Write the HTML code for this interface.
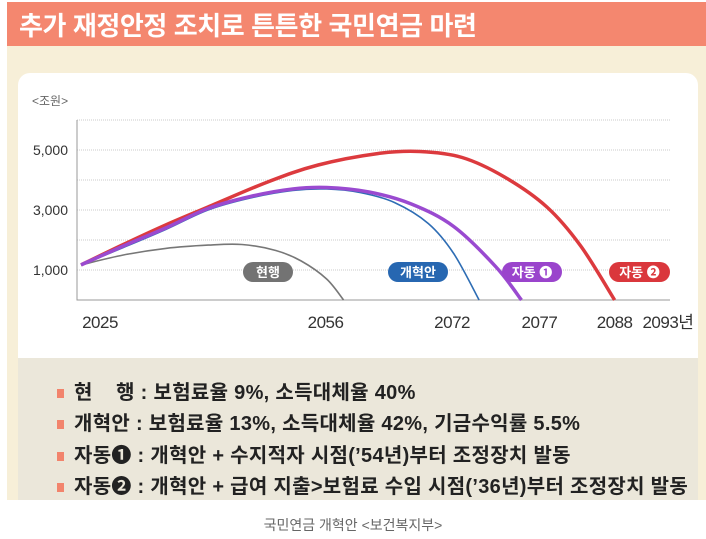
<!DOCTYPE html>
<html><head><meta charset="utf-8"><style>
body{margin:0;width:706px;height:539px;background:#fff;position:relative;overflow:hidden;font-family:"Liberation Sans","Noto Sans CJK KR",sans-serif}
.abs{position:absolute}
.leg{position:absolute;left:57px;font-size:20px;font-weight:bold;color:#222;white-space:nowrap;letter-spacing:0.3px}
.leg i{display:inline-block;width:7px;height:9px;background:#f2846c;margin-right:10px;vertical-align:middle}
</style></head><body>
<div class="abs" style="left:7px;top:2px;width:699px;height:498px;background:#f7efd8"></div>
<div class="abs" style="left:7px;top:2px;width:699px;height:44px;background:#f4876f"></div>
<div class="abs" style="left:19px;top:6px;font-size:26px;font-weight:bold;color:#fff;letter-spacing:-0.4px">추가 재정안정 조치로 튼튼한 국민연금 마련</div>
<div class="abs" style="left:18px;top:73px;width:680px;height:300px;background:#fff;border-radius:12px"></div>
<div class="abs" style="left:18px;top:358px;width:680px;height:142px;background:#ebe7da"></div>
<svg class="abs" id="chart" style="left:0;top:0" width="706" height="358"></svg>
<div class="leg" style="top:376px"><i></i>현&nbsp;&nbsp;&nbsp;&nbsp;행 : 보험료율 9%, 소득대체율 40%</div>
<div class="leg" style="top:407px"><i></i>개혁안 : 보험료율 13%, 소득대체율 42%, 기금수익률 5.5%</div>
<div class="leg" style="top:439px"><i></i>자동❶ : 개혁안 + 수지적자 시점(’54년)부터 조정장치 발동</div>
<div class="leg" style="top:470px"><i></i>자동❷ : 개혁안 + 급여 지출&gt;보험료 수입 시점(’36년)부터 조정장치 발동</div>
<div class="abs" style="left:0;width:706px;top:515px;text-align:center;font-size:14px;color:#666">국민연금 개혁안 &lt;보건복지부&gt;</div>
<script>
const yTicks=[1000,3000,5000];
const gridVals=[2000,4000,6000];
const xTickYears=[2025,2056,2072,2077,2088,2093];
const xTickLabels=["2025","2056","2072","2077","2088","2093년"];
const xLabelShift=[19,-18,-27,18,0,11];
const curYears=[2025,2030,2035,2040,2044,2048,2051,2054,2056];
const curVals=[1170,1500,1720,1830,1850,1650,1300,700,0];
const refYears=[2025,2030,2035,2040,2045,2050,2054,2058,2062,2066,2069,2072];
const refVals=[1170,1750,2350,3000,3400,3650,3700,3580,3250,2550,1550,0];
const a1Years=[2025,2030,2035,2040,2045,2050,2054,2059,2064,2069,2074,2077];
const a1Vals=[1170,1800,2400,3050,3450,3700,3750,3600,3200,2450,1100,0];
const a2Years=[2025,2030,2035,2040,2047,2053,2060,2065,2070,2075,2080,2084,2088];
const a2Vals=[1170,1850,2500,3100,3930,4500,4880,4950,4750,4100,3100,1800,0];
const svg=document.getElementById('chart');
const NS='http://www.w3.org/2000/svg';
const x=yr=>81+(yr-2025)*8.47;
const y=v=>300-v*0.03;
function mk(t,a){const e=document.createElementNS(NS,t);for(const k in a)e.setAttribute(k,a[k]);svg.appendChild(e);return e;}
[...yTicks,...gridVals].forEach(v=>{
  const g=mk('line',{x1:77,x2:670,y1:y(v),y2:y(v),stroke:'#bbb','stroke-dasharray':'1 1','stroke-width':0.8});
  
  
});
const ax=mk('path',{d:'M77 120V300H670',fill:'none',stroke:'#999','stroke-width':1});


const ul=mk('text',{x:32,y:105,'font-size':12,fill:'#666'});ul.textContent='<조원>';


yTicks.forEach(v=>{const t=mk('text',{x:68,y:y(v)+5,'text-anchor':'end','font-size':14,fill:'#333'});t.textContent=v.toLocaleString('en-US');

});
xTickYears.forEach((yr,i)=>{const t=mk('text',{x:x(yr)+xLabelShift[i],y:328,'text-anchor':'middle','font-size':17,fill:'#333','letter-spacing':'-0.5'});t.textContent=xTickLabels[i];

});
function path(ys,vs){const p=ys.map((yr,i)=>[x(yr),y(vs[i])]);let d='M'+p[0][0]+' '+p[0][1];
for(let i=0;i<p.length-1;i++){const p0=p[i-1]||p[i],p1=p[i],p2=p[i+1],p3=p[i+2]||p2;
d+=` C${p1[0]+(p2[0]-p0[0])/6} ${p1[1]+(p2[1]-p0[1])/6} ${p2[0]-(p3[0]-p1[0])/6} ${p2[1]-(p3[1]-p1[1])/6} ${p2[0]} ${p2[1]}`;}return d;}
const series=[[curYears,curVals,'#777',1.6,'line-current'],[refYears,refVals,'#2e6db4',1.6,'line-reform'],[a2Years,a2Vals,'#dc3a3e',3.5,'line-auto2'],[a1Years,a1Vals,'#9a4ad0',3.5,'line-auto1']];
series.forEach(s=>{const e=mk('path',{d:path(s[0],s[1]),fill:'none',stroke:s[2],'stroke-width':s[3]});

});
const pills=[[243,50,'#737373','현행','label-current'],[388,60,'#2767b1','개혁안','label-reform'],[502,60,'#9a44cc','자동 ❶','label-auto1'],[609,61,'#da373c','자동 ❷','label-auto2']];
pills.forEach(p=>{const r=mk('rect',{x:p[0],y:262,width:p[1],height:20,rx:10,fill:p[2]});


const t=mk('text',{x:p[0]+p[1]/2,y:277,'text-anchor':'middle','font-size':13,'font-weight':'bold',fill:'#fff'});t.textContent=p[3];

});
</script>
</body></html>
